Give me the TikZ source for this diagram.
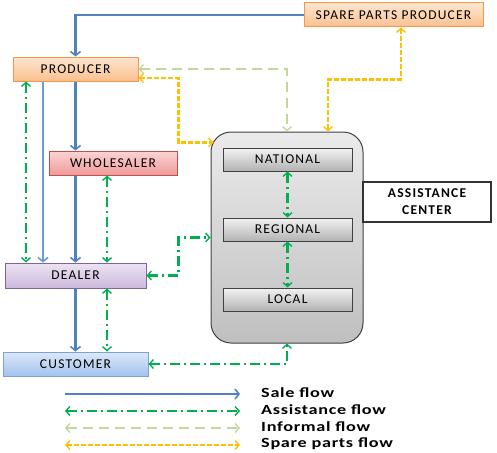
\documentclass[tikz,border=0pt]{standalone}
\usepackage{fontspec}
\setmainfont{Carlito}
\newfontfamily\boxfont[LetterSpace=9]{Carlito}
\newfontfamily\legendfont[FakeStretch=1.3, LetterSpace=5]{Carlito}
\usetikzlibrary{arrows.meta}
\definecolor{saleblue}{HTML}{4F81BD}
\definecolor{lightsale}{HTML}{6A9BE0}
\definecolor{assistgreen}{HTML}{00B050}
\definecolor{informalgreen}{HTML}{C3D69B}
\definecolor{spareyellow}{HTML}{FFC000}
\definecolor{orborder}{HTML}{F79646}
\definecolor{ortop}{HTML}{FDE6CF}
\definecolor{orbot}{HTML}{FAC090}
\definecolor{wsborder}{HTML}{C0504D}
\definecolor{wstop}{HTML}{FAD4D4}
\definecolor{wsbot}{HTML}{F09A9A}
\definecolor{dlborder}{HTML}{8064A2}
\definecolor{dltop}{HTML}{ECE4F2}
\definecolor{dlbot}{HTML}{CDB8DD}
\definecolor{cuborder}{HTML}{7AA2D6}
\definecolor{cutop}{HTML}{DCE8F8}
\definecolor{cubot}{HTML}{A3C3EE}
\tikzset{
  box/.style={draw, line width=1pt, inner sep=0pt, font=\boxfont\fontsize{13.5}{15}\selectfont},
  orangebox/.style={box, draw=orborder, top color=ortop, bottom color=orbot},
  sale/.style={draw=saleblue, line width=2.6pt, -{Straight Barb[length=4pt,width=10pt,line width=1.6pt]}},
  salelight/.style={sale, draw=lightsale},
  assist/.style={draw=assistgreen, line width=2.4pt, dash pattern=on 10pt off 4pt on 2pt off 4pt, {Straight Barb[length=4pt,width=9pt,line width=1.4pt]}-{Straight Barb[length=4pt,width=9pt,line width=1.4pt]}},
  informal/.style={draw=informalgreen, line width=2.4pt, dash pattern=on 10pt off 6pt, {Straight Barb[length=4pt,width=9pt,line width=1.4pt]}-{Straight Barb[length=4pt,width=9pt,line width=1.4pt]}},
  spare/.style={draw=spareyellow, line width=2.6pt, dash pattern=on 5pt off 2pt, {Straight Barb[length=4pt,width=9pt,line width=1.4pt]}-{Straight Barb[length=4pt,width=9pt,line width=1.4pt]}},
  level/.style={box, draw=black!75, top color=black!5, bottom color=black!30, minimum width=129pt, minimum height=23pt},
  legendtext/.style={anchor=west, font=\legendfont\bfseries\fontsize{14}{15}\selectfont, inner sep=0pt}
}
\begin{document}
\begin{tikzpicture}[x=1pt,y=-1pt]
\useasboundingbox (0,0) rectangle (497,452);

% actors of the sale chain
\node[orangebox, minimum width=179pt, minimum height=24pt] (spp) at (393.5,15) {SPARE PARTS PRODUCER};
\node[orangebox, minimum width=125pt, minimum height=24pt] (prod) at (75.5,69) {PRODUCER};
\node[box, draw=wsborder, top color=wstop, bottom color=wsbot, minimum width=128pt, minimum height=24pt] (whole) at (113,163) {WHOLESALER};
\node[box, draw=dlborder, top color=dltop, bottom color=dlbot, minimum width=141pt, minimum height=25pt] (dealer) at (75.5,275.5) {DEALER};
\node[box, draw=cuborder, top color=cutop, bottom color=cubot, minimum width=145pt, minimum height=24pt] (cust) at (75.5,364) {CUSTOMER};

% assistance center with its three levels
\node[draw=black!75, line width=1pt, rounded corners=20pt, top color=black!8, bottom color=black!25, minimum width=152pt, minimum height=211pt] (ac) at (287,237.5) {};
\node[level] (nat) at (287.5,159.5) {NATIONAL};
\node[level] (reg) at (287.5,229.5) {REGIONAL};
\node[level] (loc) at (287.5,299.5) {LOCAL};
\node[draw=black!80, line width=1.2pt, fill=white, minimum width=128pt, minimum height=40pt, align=center, inner sep=0pt, font=\boxfont\bfseries\fontsize{13.5}{17}\selectfont] (aclabel) at (427,202) {ASSISTANCE\\CENTER};

% sale flow
\draw[sale] (spp.west) -| (prod.north);
\draw[sale] (prod.south) -- (prod.south |- whole.north);
\draw[sale] (whole.south -| dealer.north) -- (dealer.north);
\draw[salelight] ([xshift=-32.5pt]prod.south) -- ([xshift=-32.5pt]prod.south |- dealer.north);
\draw[sale] (dealer.south) -- (cust.north);

% assistance flow
\draw[assist] ([xshift=-49.5pt]prod.south) -- ([xshift=-49.5pt]prod.south |- dealer.north);
\draw[assist] ([xshift=-6pt]whole.south) -- ([xshift=-6pt]whole.south |- dealer.north);
\draw[assist] ([xshift=31.5pt]dealer.south) -- ([xshift=31.5pt]dealer.south |- cust.north);
\draw[assist] (dealer.east) -- ++(32,0) |- (ac.west);
\draw[assist] (cust.east) -| (ac.south);
\draw[assist] (nat.south) -- (reg.north);
\draw[assist] (reg.south) -- (loc.north);

% informal flow
\draw[informal] (prod.east) -| (ac.north);

% spare parts flow
\draw[spare] ([yshift=-9pt]prod.east) -- ++(40,0) |- ([xshift=3pt,yshift=-11pt]ac.north west);
\draw[spare] ([xshift=7.5pt]spp.south) -- ++(0,52) -| ([xshift=41pt]ac.north);

% legend
\coordinate (s1) at (65,394);  \coordinate (e1) at (240,394);
\coordinate (s2) at (65,411);  \coordinate (e2) at (240,411);
\coordinate (s3) at (65,428);  \coordinate (e3) at (240,428);
\coordinate (s4) at (65,445);  \coordinate (e4) at (240,445);
\draw[sale, line width=1.8pt] (s1) -- (e1);
\draw[assist, line width=1.8pt] (s2) -- (e2);
\draw[informal, line width=1.8pt] (s3) -- (e3);
\draw[spare, line width=1.8pt] (s4) -- (e4);
\node[legendtext] (t1) at (261,393) {Sale flow};
\node[legendtext] (t2) at (261,410) {Assistance flow};
\node[legendtext] (t3) at (261,427) {Informal flow};
\node[legendtext] (t4) at (261,444) {Spare parts flow};
\end{tikzpicture}
\end{document}
